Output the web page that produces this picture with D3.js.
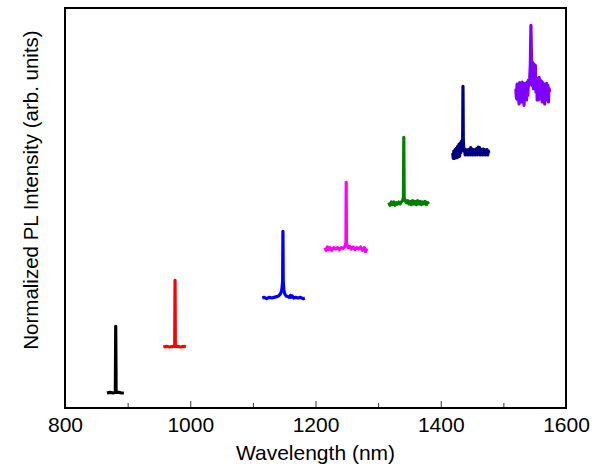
<!DOCTYPE html>
<html>
<head>
<meta charset="utf-8">
<script src="https://cdn.jsdelivr.net/npm/d3@7/dist/d3.min.js"></script>
<style>
  body { margin: 0; background: #fff; }
  svg text { font-family: Arial, "Liberation Sans", sans-serif; fill: #000; }
</style>
</head>
<body>
<svg id="chart" width="602" height="468"></svg>
<script>
// axis ticks
const majorTicks = [800, 1000, 1200, 1400, 1600]
const minorTicks = [900, 1100, 1300, 1500]

// spectra: [wavelength (nm), normalized intensity]
const spec880 = [[867, 0], [872, 0.01], [877, 0], [880.4, 0.01], [881, 1.0], [881.6, 0.01], [886, 0.01], [890, 0], [894, 0]]
const spec976 = [[957, 0], [962, 0.01], [967, 0], [973, 0.01], [975.2, 0.01], [975.7, 1.0], [976.2, 0.01], [979, 0.01], [985, 0], [990, 0.01], [993, 0]]
const spec1148 = [[1115, 0], [1118, 0.01], [1122, -0.01], [1126, 0.01], [1130, 0], [1134, 0.01], [1138, 0.02], [1141, 0.03], [1143, 0.05], [1145, 0.08],
  [1146.5, 0.14], [1147.5, 0.25], [1148, 1.0], [1148.5, 0.25], [1149.5, 0.12], [1151, 0.06], [1153, 0.03], [1156, 0.02], [1158, 0.01], [1160, 0.04],
  [1161, 0.01], [1163, 0.03], [1165, 0], [1168, 0.01], [1172, 0], [1176, 0.01], [1180, -0.01], [1183, 0]]
const spec1249 = [[1215, 0.02], [1217, -0.02], [1219, 0.03], [1221, -0.01], [1223, 0.02], [1226, -0.02], [1229, 0.02], [1232, 0], [1235, 0.02],
  [1238, -0.01], [1241, 0.02], [1244, 0.01], [1246, 0.03], [1247.5, 0.05], [1248.6, 0.1], [1249, 1.0], [1249.4, 0.1], [1250.5, 0.05],
  [1252, 0.02], [1255, 0.04], [1257, 0], [1260, 0.03], [1263, -0.01], [1266, 0.02], [1269, 0], [1272, 0.03], [1275, -0.02], [1278, 0.02],
  [1280, -0.04], [1282, 0.01]]
const spec1341 = [[1317, 0.02], [1319, -0.02], [1321, 0.03], [1323, -0.01], [1325, 0.03], [1327, -0.02], [1329, 0.02], [1331, 0], [1333, 0.03],
  [1335, 0], [1337, 0.03], [1339, 0.05], [1340.4, 0.1], [1341, 1.0], [1341.6, 0.1], [1343, 0.05], [1345, 0.02], [1347, 0.05], [1349, 0],
  [1351, 0.04], [1353, -0.01], [1355, 0.05], [1357, 0], [1359, 0.04], [1361, -0.01], [1363, 0.05], [1365, 0], [1367, 0.04], [1369, -0.01],
  [1371, 0.03], [1373, 0], [1375, 0.04], [1377, -0.01], [1379, 0.02], [1381, 0]]
const spec1435 = [[1419, 0], [1420, -0.08], [1421, 0.03], [1422, -0.08], [1423, 0.05], [1424, -0.07], [1425, 0.07], [1426, -0.07], [1427, 0.1],
  [1428, -0.06], [1429, 0.13], [1430, -0.05], [1431, 0.15], [1432, 0], [1433, 0.18], [1434, 0.05], [1435, 0.22], [1435.5, 1.0],
  [1436, 0.2], [1437, 0.03], [1438, 0.06], [1439, -0.03], [1440, 0.05], [1441, -0.02], [1442, 0.04], [1443, -0.03], [1444, 0.05],
  [1445, -0.02], [1446, 0.06], [1447, -0.03], [1448, 0.08], [1449, -0.02], [1450, 0.06], [1451, -0.03], [1452, 0.05], [1453, -0.02],
  [1454, 0.04], [1455, -0.03], [1456, 0.06], [1457, -0.02], [1458, 0.07], [1459, -0.03], [1460, 0.09], [1461, -0.02], [1462, 0.08],
  [1463, -0.03], [1464, 0.06], [1465, -0.02], [1466, 0.05], [1467, -0.03], [1468, 0.06], [1469, -0.02], [1470, 0.05], [1471, -0.03],
  [1472, 0.04], [1473, -0.02], [1474, 0.05], [1475, -0.03], [1476, 0.03], [1477, 0]]
const spec1544 = [[1520, 0.05], [1520.5, -0.06], [1521, -0.1], [1521.5, 0.05], [1522, 0.12], [1522.5, 0.0], [1523, -0.12], [1523.5, 0.02],
  [1524, 0.1], [1524.5, -0.05], [1525, -0.18], [1525.5, 0.03], [1526, 0.14], [1526.5, 0.0], [1527, -0.1], [1527.5, 0.04], [1528, 0.12],
  [1528.5, -0.02], [1529, -0.15], [1529.5, 0.05], [1530, 0.15], [1530.5, 0.0], [1531, -0.08], [1531.5, 0.04], [1532, 0.1], [1532.5, -0.05],
  [1533, -0.2], [1533.5, 0.0], [1534, 0.13], [1534.5, 0.02], [1535, -0.1], [1535.5, 0.03], [1536, 0.12], [1536.5, 0.0], [1537, -0.12],
  [1537.5, 0.04], [1538, 0.15], [1538.5, 0.02], [1539, -0.05], [1539.5, 0.06], [1540, 0.18], [1541, 0.1], [1542, 0.2], [1543, 0.4],
  [1544, 1.0], [1545, 0.43], [1546, 0.1], [1547, 0.44], [1548, 0.05], [1549, 0.42], [1550, 0.1], [1551, 0.4], [1552, 0.0], [1553, 0.2],
  [1554, -0.12], [1554.5, 0.05], [1555, 0.2], [1555.5, 0.0], [1556, -0.12], [1556.5, 0.08], [1557, 0.22], [1558, 0.05], [1559, 0.18],
  [1559.5, 0.02], [1560, -0.1], [1560.5, 0.05], [1561, 0.16], [1561.5, 0.0], [1562, -0.15], [1562.5, 0.02], [1563, 0.14], [1563.5, 0.04],
  [1564, -0.05], [1564.5, 0.05], [1565, 0.12], [1565.5, -0.02], [1566, -0.18], [1566.5, 0.0], [1567, 0.1], [1567.5, 0.02], [1568, -0.08],
  [1568.5, 0.05], [1569, 0.13], [1569.5, 0.0], [1570, -0.12], [1570.5, 0.03], [1571, 0.1], [1571.5, -0.02], [1572, -0.15], [1572.5, 0.0],
  [1573, 0.05], [1574, 0]]

const spectra = [spec880, spec976, spec1148, spec1249, spec1341, spec1435, spec1544]
// vertical stacking offset of each spectrum
const offsets = [0.225, 0.915, 1.65, 2.385, 3.06, 3.825, 4.74]
const colors = ["#000000", "#ff0000", "#0000ff", "#ff00ff", "#008000", "#000080", "#8000ff"]

const width = 602
const height = 468
const margin = { top: 8, right: 36, bottom: 60, left: 65 }
const iw = width - margin.left - margin.right
const ih = height - margin.top - margin.bottom

const svg = d3.select("#chart")
const g = svg.append("g")
  .attr("transform", "translate(" + margin.left + "," + margin.top + ")")

const xScale = d3.scaleLinear().domain([800, 1600]).range([0, iw])
const yScale = d3.scaleLinear().domain([0, 6]).range([ih, 0])

// spectra
spectra.forEach((spec, i) => {
  const line = d3.line()
    .x(d => xScale(d[0]))
    .y(d => yScale(d[1] + offsets[i]))
  g.append("path")
    .attr("d", line(spec))
    .attr("fill", "none")
    .attr("stroke", colors[i])
    .attr("stroke-width", 3.2)
    .attr("stroke-linejoin", "round")
})

// ticks (pointing inward)
const minorAxis = g.append("g")
  .attr("transform", "translate(0," + ih + ")")
  .call(d3.axisBottom(xScale).tickValues(minorTicks).tickSize(-5).tickFormat(""))
minorAxis.select(".domain").remove()

const xAxis = g.append("g")
  .attr("transform", "translate(0," + ih + ")")
  .call(d3.axisBottom(xScale).tickValues(majorTicks).tickSize(-7).tickFormat(d3.format("d")))
xAxis.select(".domain").remove()
xAxis.selectAll("text")
  .attr("y", 24)
  .attr("dy", 0)
  .style("font-size", "21px")
g.selectAll(".tick line").attr("stroke", "#333")

// frame
g.append("rect")
  .attr("width", iw)
  .attr("height", ih)
  .attr("fill", "none")
  .attr("stroke", "#000")
  .attr("stroke-width", 2)

// titles
svg.append("text")
  .attr("x", margin.left + iw / 2)
  .attr("y", 460)
  .attr("text-anchor", "middle")
  .style("font-size", "21px")
  .text("Wavelength (nm)")

svg.append("text")
  .attr("transform", "translate(38,190) rotate(-90)")
  .attr("text-anchor", "middle")
  .style("font-size", "20.5px")
  .text("Normalized PL Intensity (arb. units)")
</script>
</body>
</html>
